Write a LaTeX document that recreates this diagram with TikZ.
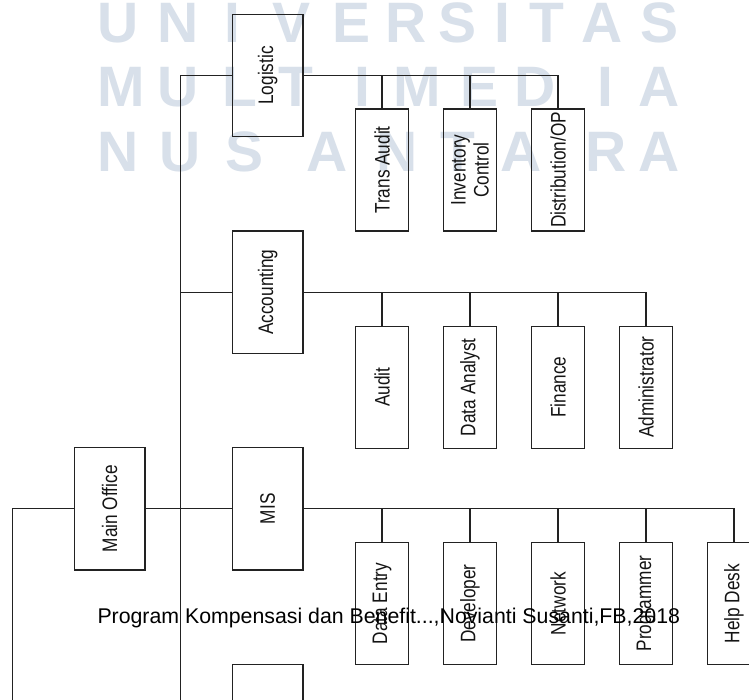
\documentclass[tikz,border=0pt]{standalone}
\usepackage{fontspec}
\setmainfont{Liberation Sans}
\newfontfamily\narrowfont[FakeStretch=0.82]{Liberation Sans}
\definecolor{wmcol}{RGB}{216,224,234}
\definecolor{lncol}{RGB}{34,34,34}
\definecolor{txcol}{RGB}{20,20,20}
\tikzset{
  wmletter/.style={text=wmcol, font=\bfseries\fontsize{57}{60}\selectfont, inner sep=0pt, anchor=base},
  bigbox/.style={draw=lncol, line width=1.3pt, rotate=90, minimum width=122.4pt, minimum height=70.5pt,
     inner sep=0pt, text=txcol, font=\narrowfont\fontsize{21}{23}\selectfont, align=center},
  smallbox/.style={draw=lncol, line width=1.3pt, rotate=90, minimum width=122pt, minimum height=53pt,
     inner sep=0pt, text=txcol, font=\narrowfont\fontsize{21}{23}\selectfont, align=center},
  conn/.style={draw=lncol, line width=1.3pt},
  footer/.style={text=black, font=\fontsize{21.3}{24}\selectfont, inner sep=0pt, anchor=base west}
}
\begin{document}
\begin{tikzpicture}[x=1pt,y=-1pt]
\useasboundingbox (0,0) rectangle (749,700);
\clip (0,0) rectangle (749,700);
\fill[white] (0,0) rectangle (749,700);

% watermark
\foreach \l/\x [count=\i] in {U/118.5,N/178,I/232,V/291.5,E/351.5,R/406,S/457.5,I/502,T/546.5,A/602,S/659.5}
  \node[wmletter] (wa\i) at (\x,43) {\l};
\foreach \l/\x [count=\i] in {M/121,U/178,L/240,T/296,I/362,M/417,E/480,D/535,I/605,A/659}
  \node[wmletter] (wb\i) at (\x,107) {\l};
\foreach \l/\x [count=\i] in {N/118.5,U/180,S/245,A/327,N/397,T/458,A/521,R/606,A/659}
  \node[wmletter] (wc\i) at (\x,172) {\l};

% main boxes
\node[bigbox] (log) at (267.7,75.5) {Logistic};
\node[bigbox] (acc) at (267.7,292.2) {Accounting};
\node[bigbox] (mis) at (267.7,508.8) {MIS};
\node[bigbox] (bot) at (267.7,725.5) {};
\node[bigbox] (mo) at (109.6,508.8) {Main Office};

% children of Logistic
\node[smallbox] (ta) at (382,170) {Trans Audit};
\node[smallbox] (ic) at (470,170) {Inventory\\Control};
\node[smallbox] (dop) at (558,170) {Distribution/OP};

% children of Accounting
\node[smallbox] (aud) at (382,387.2) {Audit};
\node[smallbox] (da) at (470,387.2) {Data Analyst};
\node[smallbox] (fin) at (558,387.2) {Finance};
\node[smallbox] (adm) at (646,387.2) {Administrator};

% children of MIS
\node[smallbox] (de) at (382,603.5) {Data Entry};
\node[smallbox] (dev) at (470,603.5) {Developer};
\node[smallbox] (net) at (558,603.5) {Network};
\node[smallbox] (prog) at (646,603.5) {Programmer};
\node[smallbox] (hd) at (734,603.5) {Help Desk};

% trunk
\coordinate (t0) at (180.5,75.5);
\coordinate (tb) at (180.5,712);
\coordinate (lb) at (12.7,712);
\draw[conn] (log) -- (t0) -- (tb);
\draw[conn] (acc) -- (acc -| t0);
\draw[conn] (mo) -- (mis);
\draw[conn] (mo) -| (lb);

% buses
\foreach \c in {ta,ic,dop} \draw[conn] (log) -| (\c);
\foreach \c in {aud,da,fin,adm} \draw[conn] (acc) -| (\c);
\foreach \c in {de,dev,net,prog,hd} \draw[conn] (mis) -| (\c);

% footer
\node[footer] (ft) at (97.3,623) {Program Kompensasi dan Benefit...,Novianti Susanti,FB,2018};
\end{tikzpicture}
\end{document}
